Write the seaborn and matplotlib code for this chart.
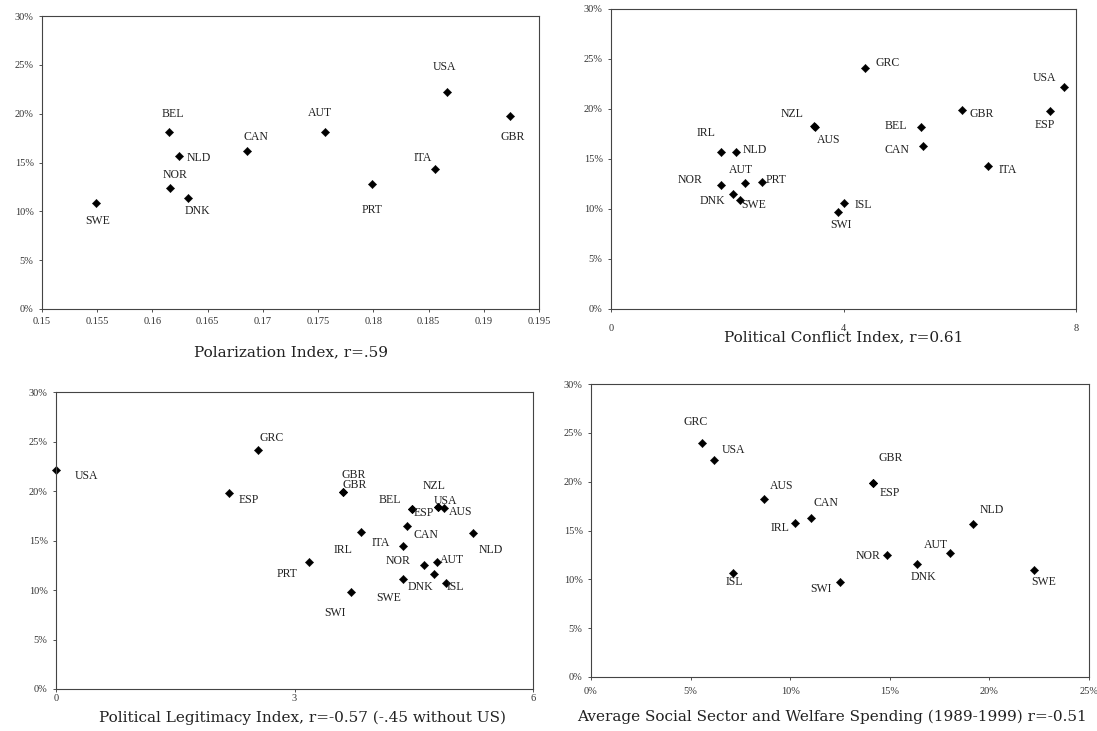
import matplotlib
matplotlib.use("Agg")
import matplotlib.pyplot as plt
import seaborn as sns
import pandas as pd
from matplotlib.ticker import PercentFormatter, FuncFormatter, MultipleLocator

# ---------------- data ----------------
# Panel 1: Polarization Index
names1 = ["SWE", "BEL", "NLD", "NOR", "DNK", "CAN", "AUT", "PRT", "ITA", "USA", "GBR"]
x1 = [0.1549, 0.1615, 0.1624, 0.1616, 0.1632, 0.1686, 0.1756, 0.1799, 0.1856, 0.1867, 0.1924]
y1 = [10.9, 18.1, 15.7, 12.4, 11.4, 16.2, 18.1, 12.8, 14.3, 22.2, 19.8]

# Panel 2: Political Conflict Index
names2 = ["GRC", "USA", "GBR", "ESP", "NZL", "AUS", "BEL", "CAN", "ITA", "IRL",
          "NLD", "AUT", "PRT", "NOR", "DNK", "SWE", "ISL", "SWI"]
x2 = [4.37, 7.79, 6.04, 7.55, 3.49, 3.51, 5.33, 5.36, 6.48, 1.90,
      2.15, 2.30, 2.60, 1.89, 2.10, 2.22, 4.01, 3.91]
y2 = [24.1, 22.2, 19.9, 19.8, 18.3, 18.2, 18.2, 16.3, 14.3, 15.7,
      15.7, 12.6, 12.7, 12.4, 11.5, 10.9, 10.6, 9.7]

# Panel 3: Political Legitimacy Index
names3 = ["USA", "GRC", "ESP", "GBR", "GBR", "BEL", "ESP", "NZL", "USA", "AUS", "CAN",
          "IRL", "ITA", "NLD", "NOR", "AUT", "DNK", "SWE", "ISL", "PRT", "SWI"]
x3 = [0.0, 2.54, 2.17, 3.61, 3.61, 4.48, 4.48, 4.80, 4.80, 4.88, 4.42,
      3.84, 4.36, 5.25, 4.63, 4.79, 4.76, 4.36, 4.90, 3.18, 3.71]
y3 = [22.1, 24.1, 19.8, 19.9, 19.9, 18.2, 18.2, 18.4, 18.4, 18.3, 16.5,
      15.9, 14.4, 15.8, 12.5, 12.8, 11.6, 11.1, 10.7, 12.8, 9.8]

# Panel 4: Average Social Sector and Welfare Spending
names4 = ["GRC", "USA", "AUS", "GBR", "ESP", "CAN", "IRL", "NLD", "NOR", "AUT",
          "DNK", "ISL", "SWI", "SWE"]
x4 = [5.56, 6.16, 8.68, 14.15, 14.15, 11.06, 10.23, 19.2, 14.86, 18.0,
      16.35, 7.15, 12.49, 22.26]
y4 = [24.0, 22.2, 18.2, 19.9, 19.9, 16.3, 15.8, 15.7, 12.5, 12.7,
      11.6, 10.6, 9.75, 11.0]

xlabels = ["Polarization Index, r=.59",
           "Political Conflict Index, r=0.61",
           "Political Legitimacy Index, r=-0.57 (-.45 without US)",
           "Average Social Sector and Welfare Spending (1989-1999) r=-0.51"]

# ---------------- styling / layout (not data) ----------------
off1 = [(2, -18), (4, 18), (20, -2), (5, 13), (10, -13), (9, 14), (-5, 19),
        (0, -26), (-12, 11), (-3, 25), (2, -21)]
off2 = [(23, 5), (-19, 9), (20, -4), (-5, -14), (-22, 12), (14, -13), (-25, 1),
        (-26, -4), (20, -4), (-15, 19), (19, 2), (-4, 13), (14, 2), (-31, 5),
        (-21, -7), (14, -5), (19, -2), (3, -13)]
off3 = [(30, -6), (14, 12), (20, -7), (11, 17), (12, 7), (-22, 9), (12, -4),
        (-4, 21), (8, 6), (17, -4), (19, -9), (-18, -18), (-22, 3), (17, -17),
        (-26, 4), (15, 2), (-14, -13), (-14, -19), (10, -4), (-22, -12), (-16, -21)]
off4 = [(-6, 21), (20, 10), (18, 13), (18, 25), (17, -10), (15, 15), (-15, -5),
        (18, 14), (-19, -1), (-14, 8), (7, -13), (1, -9), (-19, -7), (9, -12)]

W, H = 1097, 731
# (left px, right px, top px, bottom px)
boxes = [(42, 539, 16, 309), (611, 1076, 9, 309), (56, 533, 392, 689), (591, 1089, 384, 677)]

sns.set_theme(style="white")
plt.rcParams["font.family"] = ["Liberation Serif", "DejaVu Serif"]
plt.rcParams["text.color"] = "#222222"

fig = plt.figure(figsize=(W / 100, H / 100), dpi=100)
fig.patch.set_facecolor("white")

panels = [(names1, x1, y1, off1), (names2, x2, y2, off2),
          (names3, x3, y3, off3), (names4, x4, y4, off4)]
xlims = [(0.15, 0.195), (0, 8), (0, 6), (0, 25)]
xsteps = [0.005, 4, 3, 5]
tickpads = [3.5, 8.0, 0.8, 4.5]
label_y_px = [43, 28, 29, 40]
label_x_frac = [0.5, 0.5, 0.516, 0.484]

for i, ((nm, xs, ys, offs), box) in enumerate(zip(panels, boxes)):
    l, r, t, b = box
    ax = fig.add_axes([l / W, 1 - b / H, (r - l) / W, (b - t) / H])
    df = pd.DataFrame({"x": xs, "y": ys, "name": nm})
    sns.scatterplot(data=df, x="x", y="y", ax=ax, marker="D", s=18,
                    color="black", edgecolor="black", linewidth=0.3, legend=False)
    for coll in ax.collections:
        coll.set_clip_on(False)
    for (xx, yy, n), (dx, dy) in zip(zip(xs, ys, nm), offs):
        ax.annotate(n, (xx, yy), xytext=(dx, dy), textcoords="offset pixels",
                    ha="center", va="center", fontsize=8.5, color="#222222")
    ax.set_xlim(*xlims[i])
    ax.set_ylim(0, 30)
    ax.xaxis.set_major_locator(MultipleLocator(xsteps[i]))
    ax.yaxis.set_major_locator(MultipleLocator(5))
    ax.yaxis.set_major_formatter(PercentFormatter(100, decimals=0))
    if i == 3:
        ax.xaxis.set_major_formatter(PercentFormatter(100, decimals=0))
    else:
        ax.xaxis.set_major_formatter(FuncFormatter(lambda v, p: f"{round(v, 4):g}"))
    ax.tick_params(axis="both", which="major", direction="out", length=2.5, width=0.6,
                   color="#333333", labelsize=7.5, labelcolor="#333333",
                   bottom=True, left=True)
    ax.tick_params(axis="x", pad=tickpads[i])
    ax.tick_params(axis="y", pad=3.5)
    for sp in ax.spines.values():
        sp.set_visible(True)
        sp.set_color("#444444")
        sp.set_linewidth(0.8)
    ax.set_ylabel("")
    ax.set_xlabel(xlabels[i], fontsize=11, color="#222222",
                  fontfamily=["DejaVu Serif"])
    ax.xaxis.label.set_va("center")
    ax.xaxis.set_label_coords(label_x_frac[i], -label_y_px[i] / (b - t))
    ax.grid(False)

fig.savefig("out.png", dpi=100, facecolor="white")
